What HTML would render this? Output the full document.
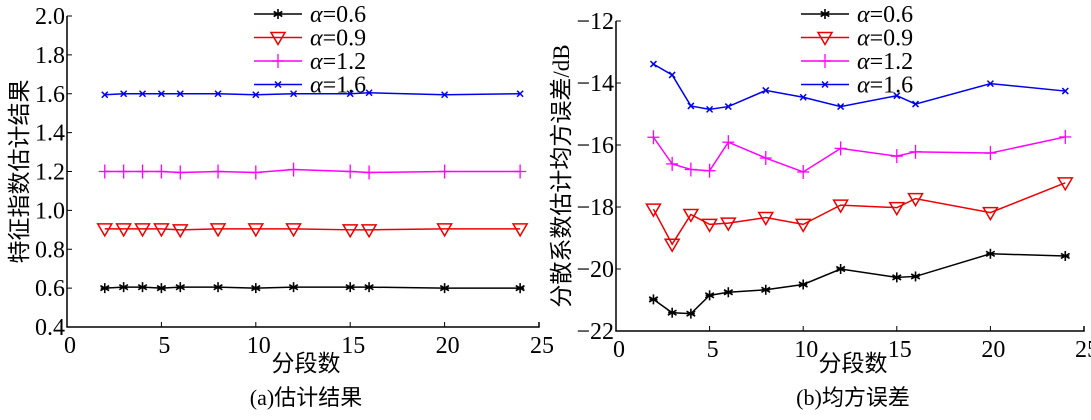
<!DOCTYPE html>
<html><head><meta charset="utf-8"><style>
body{margin:0;background:#fff;}
svg text{font-family:"Liberation Serif","Noto Serif CJK SC",serif;}
.cjk{font-family:"Liberation Serif","Noto Sans CJK SC",sans-serif!important;}
</style></head><body>
<svg id="c" width="1091" height="415" xmlns="http://www.w3.org/2000/svg"></svg>
<script>
const xs=[2,3,4,5,6,8,10,12,15,16,20,24];
const seriesNames=["α=0.6","α=0.9","α=1.2","α=1.6"];
const colors=["#000","#e00","#f0f","#00e"];
const markers=["star","tri","plus","x"];
const estA06=[0.6,0.605,0.605,0.6,0.605,0.605,0.6,0.605,0.605,0.605,0.6,0.6];
const estA09=[0.905,0.905,0.905,0.905,0.9,0.905,0.905,0.905,0.9,0.9,0.905,0.905];
const estA12=[1.2,1.2,1.2,1.2,1.195,1.2,1.195,1.21,1.2,1.195,1.2,1.2];
const estA16=[1.595,1.6,1.6,1.6,1.6,1.6,1.595,1.6,1.6,1.605,1.595,1.6];
const mseA06=[-20.98,-21.41,-21.44,-20.85,-20.75,-20.67,-20.5,-20.0,-20.27,-20.24,-19.51,-19.58];
const mseA09=[-18.07,-19.2,-18.24,-18.56,-18.52,-18.34,-18.56,-17.94,-18.02,-17.73,-18.18,-17.22];
const mseA12=[-15.75,-16.61,-16.79,-16.83,-15.91,-16.42,-16.87,-16.11,-16.36,-16.22,-16.26,-15.74];
const mseA16=[-13.39,-13.74,-14.74,-14.85,-14.76,-14.24,-14.46,-14.76,-14.41,-14.68,-14.02,-14.26];
const xTicks=[0,5,10,15,20,25];
const yTicksA=["0.4","0.6","0.8","1.0","1.2","1.4","1.6","1.8","2.0"];
const yTicksB=["−22","−20","−18","−16","−14","−12"];
const yValsB=[-22,-20,-18,-16,-14,-12];
const NS="http://www.w3.org/2000/svg";
const svg=document.getElementById('c');
function el(t,a,p){const e=document.createElementNS(NS,t);for(const k in a)e.setAttribute(k,a[k]);(p||svg).appendChild(e);return e;}
function marker(g,type,x,y,c){
  if(type==="star"){for(const a of [30,90,150]){const r=a*Math.PI/180;el('line',{x1:x-5*Math.cos(r),y1:y-5*Math.sin(r),x2:x+5*Math.cos(r),y2:y+5*Math.sin(r),stroke:c,'stroke-width':1.6},g);}el('line',{x1:x-4,y1:y,x2:x+4,y2:y,stroke:c,'stroke-width':1.6},g);}
  else if(type==="tri"){el('polygon',{points:`${x-7},${y-5} ${x+7},${y-5} ${x},${y+7}`,fill:'none',stroke:c,'stroke-width':1.5},g);}
  else if(type==="plus"){el('line',{x1:x-6,y1:y,x2:x+6,y2:y,stroke:c,'stroke-width':1.3},g);el('line',{x1:x,y1:y-7,x2:x,y2:y+7,stroke:c,'stroke-width':1.3},g);}
  else {el('line',{x1:x-3,y1:y-3,x2:x+3,y2:y+3,stroke:c,'stroke-width':1.5},g);el('line',{x1:x-3,y1:y+3,x2:x+3,y2:y-3,stroke:c,'stroke-width':1.5},g);}
}
function panel(o){
  const g=el('g',{});
  
  
  const X=v=>o.x0+(v-0)/25*(o.x1-o.x0);
  const Y=v=>o.y1-(v-o.ymin)/(o.ymax-o.ymin)*(o.y1-o.y0);
  const ax=el('path',{d:`M${o.x0},${o.y0} V${o.y1} H${o.x1} V${o.y1-5}`,fill:'none',stroke:'#000','stroke-width':1.5},g);
  
  xTicks.forEach(t=>{el('line',{x1:X(t),y1:o.y1,x2:X(t),y2:o.y1-5,stroke:'#000'},g);
    const tx=el('text',{x:X(t)+3,y:o.y1+26,'font-size':24,'text-anchor':'middle'},g);tx.textContent=t;
    });
  o.yv.forEach((v,i)=>{el('line',{x1:o.x0,y1:Y(v),x2:o.x0+5,y2:Y(v),stroke:'#000'},g);
    const tx=el('text',{x:o.x0-2,y:Y(v)+8,'font-size':24,'text-anchor':'end'},g);tx.textContent=o.yl[i];
    });
  const xt=el('text',{x:(o.x0+o.x1)/2+3,y:371,'font-size':23,'text-anchor':'middle',class:'cjk'},g);xt.textContent="分段数";
  
  const cap=el('text',{x:(o.x0+o.x1)/2+3,y:405,'font-size':22,'text-anchor':'middle',class:'cjk'},g);cap.textContent=o.cap;
  
  const yt=el('text',{x:0,y:0,'font-size':23,'text-anchor':'middle',class:'cjk',transform:`translate(${o.ytx},${(o.y0+o.y1)/2}) rotate(-90)`},g);yt.textContent=o.ytitle;
  
  o.data.forEach((d,si)=>{
    const sg=el('g',{},g);
    
    el('polyline',{points:xs.map((x,i)=>X(x)+','+Y(d[i])).join(' '),fill:'none',stroke:colors[si],'stroke-width':1.5},sg);
    xs.forEach((x,i)=>marker(sg,markers[si],X(x),Y(d[i]),colors[si]));
    const ly=14+si*23.5;
    const lg=el('g',{},g);
    
    el('line',{x1:o.lx,y1:ly,x2:o.lx+48,y2:ly,stroke:colors[si],'stroke-width':1.5},lg);
    marker(lg,markers[si],o.lx+24,ly,colors[si]);
    const t=el('text',{x:o.lx+56,y:ly+8,'font-size':24},lg);
    t.innerHTML='<tspan font-style="italic">α</tspan>='+seriesNames[si].split('=')[1];
  });
}
panel({name:'panel-a-estimate',x0:67,x1:539,y0:16,y1:327,ymin:0.4,ymax:2.0,yv:yTicksA.map(Number),yl:yTicksA,
  data:[estA06,estA09,estA12,estA16],cap:"(a)估计结果",ytitle:"特征指数估计结果",ytx:27,lx:254});
panel({name:'panel-b-mse',x0:616,x1:1084,y0:21,y1:331,ymin:-22,ymax:-12,yv:yValsB,yl:yTicksB,
  data:[mseA06,mseA09,mseA12,mseA16],cap:"(b)均方误差",ytitle:"分散系数估计均方误差/dB",ytx:569,lx:801});
</script>
</body></html>
